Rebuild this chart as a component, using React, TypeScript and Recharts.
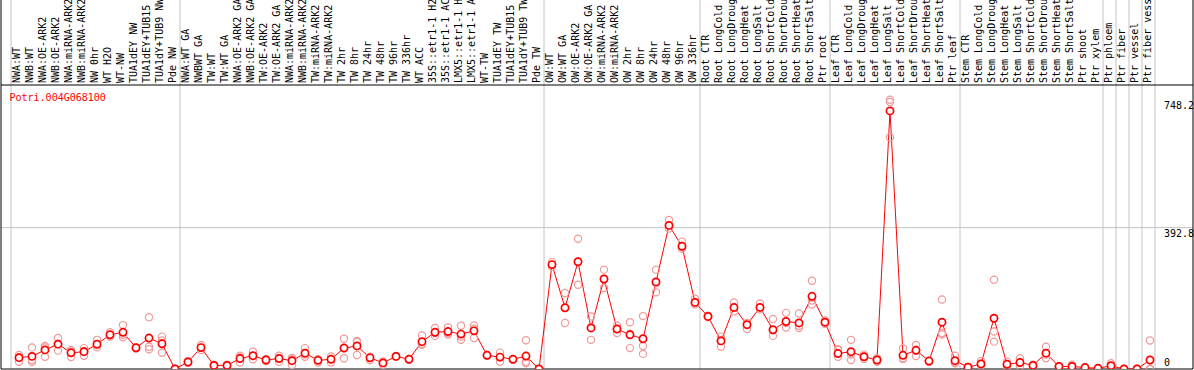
import React from 'react';
import { ComposedChart, Line, Scatter, XAxis, YAxis, ReferenceLine } from 'recharts';

const geneName = 'Potri.004G068100';

const labels = [
  'NWA:WT', 'NWB:WT', 'NWA:OE-ARK2', 'NWB:OE-ARK2', 'NWA:miRNA-ARK2', 'NWB:miRNA-ARK2', 'NW 0hr', 'WT H2O', 'WT-NW',
  'TUA1dEY NW', 'TUA1dEY+TUB15', 'TUA1dY+TUB9 NW', 'Pde NW',
  'NWA:WT GA', 'NWBWT GA', 'TW:WT', 'TW:WT GA', 'NWA:OE-ARK2 GA', 'NWB:OE-ARK2 GA', 'TW:OE-ARK2', 'TW:OE-ARK2 GA',
  'NWA:miRNA-ARK2', 'NWB:miRNA-ARK2', 'TW:miRNA-ARK2', 'TW:miRNA-ARK2', 'TW 2hr', 'TW 8hr', 'TW 24hr', 'TW 48hr',
  'TW 96hr', 'TW 336hr', 'WT ACC', '35S::etr1-1 H2', '35S::etr1-1 AC', 'LMX5::etr1-1 H', 'LMX5::etr1-1 A', 'WT-TW',
  'TUA1dEY TW', 'TUA1dEY+TUB15', 'TUA1dY+TUB9 TW', 'Pde TW',
  'OW:WT', 'OW:WT GA', 'OW:OE-ARK2', 'OW:OE-ARK2 GA', 'OW:miRNA-ARK2', 'OW:miRNA-ARK2', 'OW 2hr', 'OW 8hr', 'OW 24hr',
  'OW 48hr', 'OW 96hr', 'OW 336hr',
  'Root CTR', 'Root LongCold', 'Root LongDroug', 'Root LongHeat', 'Root LongSalt', 'Root ShortCold', 'Root ShortDrou',
  'Root ShortHeat', 'Root ShortSalt', 'Ptr root',
  'Leaf CTR', 'Leaf LongCold', 'Leaf LongDroug', 'Leaf LongHeat', 'Leaf LongSalt', 'Leaf ShortCold', 'Leaf ShortDrou',
  'Leaf ShortHeat', 'Leaf ShortSalt', 'Ptr leaf',
  'Stem CTR', 'Stem LongCold', 'Stem LongDroug', 'Stem LongHeat', 'Stem LongSalt', 'Stem ShortCold', 'Stem ShortDrou',
  'Stem ShortHeat', 'Stem ShortSalt', 'Ptr shoot', 'Ptr xylem',
  'Ptr phloem', 'Ptr fiber', 'Ptr vessel', 'Ptr fiber vess',
];

const meanValues = [
  31.5, 35, 53, 69, 45, 48, 69, 95, 102, 59, 86, 70, 0,
  19.5, 59.5, 10, 10, 29, 37, 25, 29, 23, 44, 24, 27, 58, 64, 31, 17, 35, 27, 76, 102, 104, 97, 106, 38, 33, 27, 36, 0,
  290, 170, 298, 114, 250, 111, 95, 84, 242, 399, 341, 185,
  146, 78, 171, 123, 171, 109, 132, 128, 202, 130,
  43, 48, 34, 25, 717, 38, 52, 22, 130, 23,
  5, 14, 141, 13, 18, 10, 44, 7, 7, 4, 2,
  9, 0, 0, 25,
];

const rep1 = [
  39, 60, 64, 86, 53, 58, 81, 102, 122, 60, 144, 90, 0,
  22, 67, 12, 12, 37, 48, 28, 37, 31, 58, 27, 35, 84, 78, 34, 21, 36, 28, 93, 114, 116, 120, 121, 39, 45.5, 28, 80, 0,
  297, 211, 362, 146, 276, 120, 130, 147, 276, 414, 354, 195,
  148, 90, 185, 128, 182, 139, 156, 154, 245, 135,
  55, 81, 40, 30, 748.2, 57, 67, 24, 193, 37,
  6, 22, 248, 20, 30, 12, 62, 8, 12, 4, 2,
  16, 0, 0, 79,
];

const rep2 = [
  33, 25, 60, 70, 49, 50, 66, 92, 95, 58, 62, 79, 0,
  19, 59, 10, 10, 32, 36, 25, 30, 27, 40, 27, 28, 60, 75, 33, 17, 35, 27, 70, 100, 100, 90, 112, 38, 33, 27, 20, 0,
  290, 172, 298, 116, 250, 112, 98, 64, 238, 399, 340, 185,
  146, 80, 171, 122, 172, 108, 128, 120, 190, 130,
  53, 40, 35, 25, 742, 30, 52, 22, 100, 18,
  5, 14, 104, 13, 18, 10, 40, 7, 7, 4, 2,
  8, 0, 0, 0,
];

const rep3 = [
  20, 20, 34, 51, 33, 37, 60, 90, 88, 57, 55, 45, 0,
  17, 53, 8, 8, 18, 27, 22, 20, 11, 34, 18, 18, 30, 39, 25, 12, 34, 26, 67, 92, 96, 81, 86, 37, 20, 26, 16, 0,
  284, 128, 234, 81, 225, 100, 58, 42, 213, 390, 334, 180,
  144, 62, 160, 111, 165, 92, 115, 114, 179, 125,
  34, 25, 28, 20, 644, 28, 36, 20, 96, 16,
  4, 10, 76, 8, 8, 8, 30, 6, 4, 3, 2,
  4, 0, 0, 0,
];

const groupStarts = [0, 13, 41, 53, 63, 73, 84, 85, 86, 87, 88];
const yTicks = [0, 392.8, 748.2];
const gridValues = [392.8];

const W = 1194;
const H = 370;
const PLOT_LEFT = 1;
const PLOT_RIGHT = 1193;
const STEP = 13;
const FIRST_POINT = 19;
const X_MIN = (PLOT_LEFT - FIRST_POINT) / STEP;
const X_MAX = X_MIN + (PLOT_RIGHT - PLOT_LEFT) / STEP;
const SEP_OFFSET = 8 / STEP;
const PLOT_TOP = 85;
const PLOT_BOTTOM = 369;
const Y_MAX = 789;
const Y_SKY = (PLOT_BOTTOM * Y_MAX) / (PLOT_BOTTOM - PLOT_TOP);

const MONO = '"DejaVu Sans Mono", monospace';
const RED = '#ff0000';
const PINK = '#f09a9a';
const GRID = '#c4c4c4';

const chartData = meanValues.map((v, i) => ({ idx: i, mean: v }));
const repSets = [rep1, rep2, rep3].map((r) => r.map((v, i) => ({ idx: i, v })));
const xTicks = labels.map((_, i) => i);

const XTick = (props: any) => {
  const { x, y, payload } = props;
  return (
    <text
      transform={`translate(${x + 0.5},${y - 2}) rotate(-90)`}
      fontFamily={MONO}
      fontSize={10}
      fill="#000"
      textAnchor="start"
    >
      {labels[payload.value]}
    </text>
  );
};

const makeYLabel = (text: string) => (props: any) => {
  const vb = props.viewBox || {};
  const right = (vb.x || 0) + (vb.width || 0);
  const y = vb.y || 0;
  const ty = Math.min(y + 9, 365.5);
  return (
    <text x={right - 29} y={ty} fontFamily={MONO} fontSize={10} fill="#000" textAnchor="start">
      {text}
    </text>
  );
};

const MainDot = (p: any) => {
  if (p.cx == null || p.cy == null) return <g key={p.index} />;
  return <circle key={p.index} cx={p.cx} cy={p.cy} r={3.6} fill="#fff" stroke={RED} strokeWidth={1.7} />;
};

const RepDot = (p: any) => {
  if (p.cx == null || p.cy == null) return <g />;
  return <circle cx={p.cx} cy={p.cy} r={3.6} fill="none" stroke={PINK} strokeWidth={1.2} />;
};

export default function App() {
  return (
    <div style={{ position: 'absolute', left: 0, top: 0, width: W, height: H, background: '#fff' }}>
      <ComposedChart
        width={W}
        height={H}
        data={chartData}
        margin={{ top: 0, right: W - PLOT_RIGHT, bottom: H - PLOT_BOTTOM, left: PLOT_LEFT }}
      >
        <XAxis
          dataKey="idx"
          type="number"
          orientation="top"
          domain={[X_MIN, X_MAX]}
          allowDataOverflow
          ticks={xTicks}
          interval={0}
          height={PLOT_TOP}
          tickSize={0}
          tickMargin={0}
          tickLine={false}
          axisLine={{ stroke: '#000', strokeWidth: 1 }}
          tick={<XTick />}
        />
        <YAxis type="number" domain={[0, Y_MAX]} allowDataOverflow hide />
        {gridValues.map((v) => (
          <ReferenceLine key={`grid-${v}`} y={v} stroke={GRID} strokeWidth={1} ifOverflow="visible" />
        ))}
        {groupStarts.map((k) => (
          <ReferenceLine
            key={`sep-${k}`}
            segment={[
              { x: k - SEP_OFFSET, y: 0 },
              { x: k - SEP_OFFSET, y: Y_SKY },
            ]}
            stroke={GRID}
            strokeWidth={1}
            ifOverflow="visible"
          />
        ))}
        <ReferenceLine
          segment={[
            { x: X_MIN, y: 0 },
            { x: X_MIN, y: Y_SKY },
          ]}
          stroke="#000"
          strokeWidth={1}
          ifOverflow="visible"
        />
        <ReferenceLine
          segment={[
            { x: X_MAX, y: 0 },
            { x: X_MAX, y: Y_SKY },
          ]}
          stroke="#000"
          strokeWidth={1}
          ifOverflow="visible"
        />
        <ReferenceLine y={0} stroke="#000" strokeWidth={1} ifOverflow="visible" />
        {yTicks.map((v) => (
          <ReferenceLine
            key={`tick-${v}`}
            y={v}
            stroke="none"
            ifOverflow="visible"
            label={makeYLabel(String(v))}
          />
        ))}
        {repSets.map((d, j) => (
          <Scatter key={`rep-${j}`} data={d} dataKey="v" shape={RepDot} isAnimationActive={false} />
        ))}
        <Line
          dataKey="mean"
          stroke={RED}
          strokeWidth={1}
          dot={MainDot}
          activeDot={false}
          isAnimationActive={false}
        />
      </ComposedChart>
      <svg width={W} height={H} style={{ position: 'absolute', left: 0, top: 0, pointerEvents: 'none' }}>
        <text x={9.5} y={100.5} fontFamily={MONO} fontSize={10} fill={RED}>
          {geneName}
        </text>
      </svg>
    </div>
  );
}
